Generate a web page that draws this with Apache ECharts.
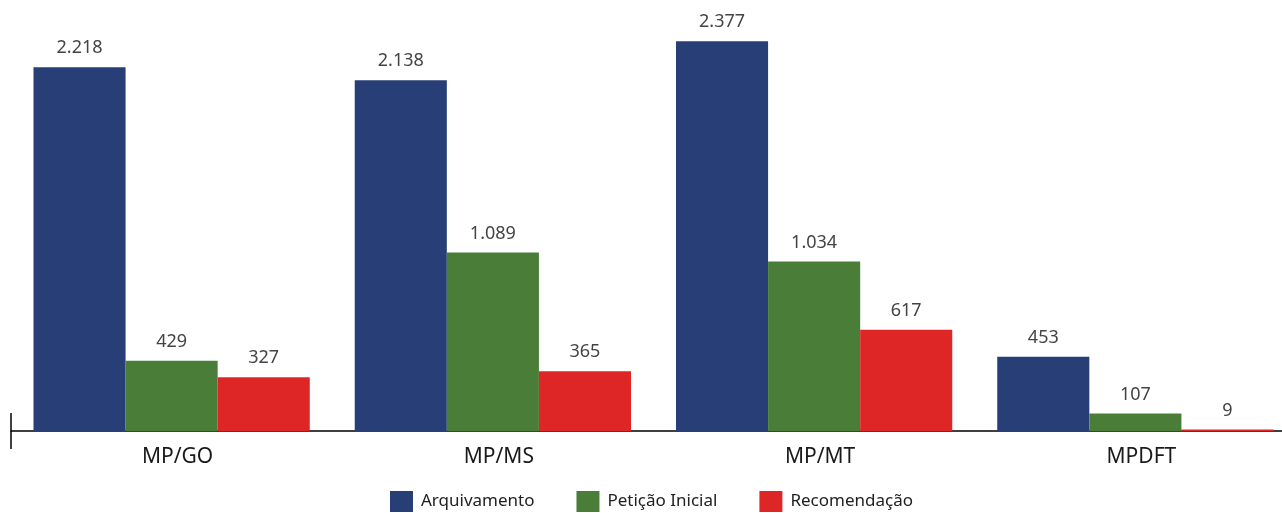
<!DOCTYPE html>
<html>
<head>
<meta charset="utf-8">
<script src="https://cdn.jsdelivr.net/npm/echarts@6/dist/echarts.min.js"></script>
<style>
html,body{margin:0;padding:0;background:#fff;}
#chart{width:1282px;height:513px;}
</style>
</head>
<body>
<div id="chart"></div>
<script>
const categories = ['MP/GO', 'MP/MS', 'MP/MT', 'MPDFT'];
const seriesNames = ['Arquivamento', 'Petição Inicial', 'Recomendação'];
const arquivamento = [2218, 2138, 2377, 453];
const peticaoInicial = [429, 1089, 1034, 107];
const recomendacao = [327, 365, 617, 9];
const colors = ['#273f76', '#4a7e38', '#df2626'];

function fmt(v) {
  return String(v).replace(/\B(?=(\d{3})+(?!\d))/g, '.');
}

const chart = echarts.init(document.getElementById('chart'));
const FONT = '"Noto Sans", sans-serif';

function mkSeries(name, data, color) {
  return {
    name: name,
    type: 'bar',
    data: data,
    barGap: '0%',
    barCategoryGap: '14%',
    itemStyle: { color: color },
    label: {
      show: true,
      position: 'top',
      distance: 10,
      fontFamily: FONT,
      fontSize: 18,
      color: '#444',
      formatter: p => fmt(p.value)
    },
    emphasis: { disabled: true }
  };
}

chart.setOption({
  animation: false,
  grid: { left: 11, width: 1285, top: 21, height: 410, outerBoundsMode: 'none', containLabel: false },
  legend: {
    data: seriesNames,
    left: 390,
    top: 491,
    padding: 0,
    itemWidth: 23,
    itemHeight: 21,
    itemGap: 42,
    icon: 'rect',
    textStyle: { fontFamily: FONT, fontSize: 17, lineHeight: 21, color: '#222', padding: [0, 0, 0, 3] }
  },
  xAxis: {
    type: 'category',
    data: categories,
    axisLine: { show: true, lineStyle: { color: '#000', width: 1.5 } },
    axisTick: { show: false },
    axisLabel: { fontFamily: FONT, fontSize: 21, color: '#1a1a1a', margin: 16, padding: [0, 0, 0, 12] }
  },
  yAxis: {
    type: 'value',
    min: 0,
    max: 2500,
    show: false,
    splitLine: { show: false }
  },
  series: [
    mkSeries(seriesNames[0], arquivamento, colors[0]),
    mkSeries(seriesNames[1], peticaoInicial, colors[1]),
    mkSeries(seriesNames[2], recomendacao, colors[2])
  ]
});

// small vertical tick at the start of the category axis
const origin = chart.convertToPixel({ gridIndex: 0 }, [0, 0]);
const gridRect = chart.getModel().getComponent('grid').coordinateSystem.getRect();
const x0 = gridRect.x;
const y0 = origin[1];
chart.setOption({
  graphic: [{
    type: 'line',
    shape: { x1: x0, y1: y0 - 18, x2: x0, y2: y0 + 18 },
    style: { stroke: '#000', lineWidth: 1.5 },
    silent: true
  }]
});
</script>
</body>
</html>
